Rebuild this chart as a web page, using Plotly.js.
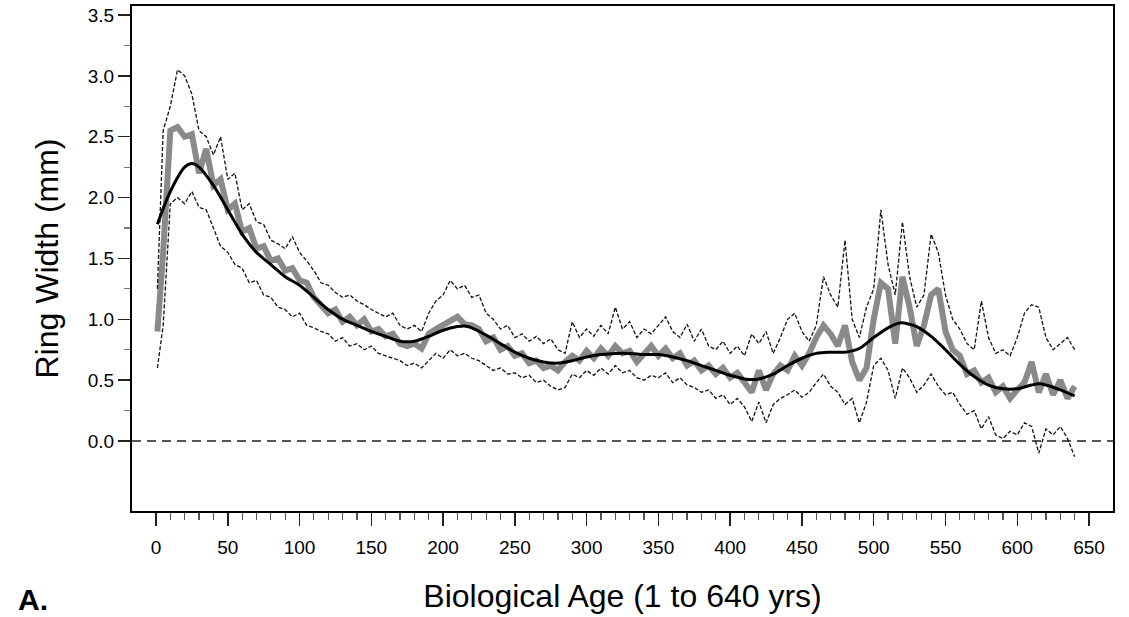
<!DOCTYPE html>
<html>
<head>
<meta charset="utf-8">
<script src="https://cdn.plot.ly/plotly-3.0.1.min.js"></script>
<style>
  html, body { margin: 0; padding: 0; background: #ffffff; }
  #chart { width: 1129px; height: 617px; }
</style>
</head>
<body>
<div id="chart"></div>
<script>
// ---- Data ----
const ageYears = [1,5,10,15,20,25,30,35,40,45,50,55,60,65,70,75,80,85,90,95,100,105,110,115,120,125,130,135,140,145,150,155,160,165,170,175,180,185,190,195,200,205,210,215,220,225,230,235,240,245,250,255,260,265,270,275,280,285,290,295,300,305,310,315,320,325,330,335,340,345,350,355,360,365,370,375,380,385,390,395,400,405,410,415,420,425,430,435,440,445,450,455,460,465,470,475,480,485,490,495,500,505,510,515,520,525,530,535,540,545,550,555,560,565,570,575,580,585,590,595,600,605,610,615,620,625,630,635,640];

const meanRingWidth = [0.90,1.55,2.55,2.58,2.50,2.52,2.20,2.40,2.10,2.15,1.90,1.95,1.72,1.75,1.58,1.60,1.48,1.50,1.40,1.42,1.32,1.30,1.18,1.12,1.05,1.08,0.98,1.02,0.95,1.00,0.90,0.92,0.86,0.88,0.80,0.78,0.80,0.76,0.88,0.92,0.95,0.98,1.02,0.96,0.95,0.92,0.82,0.85,0.75,0.78,0.70,0.72,0.64,0.66,0.60,0.62,0.58,0.65,0.70,0.66,0.74,0.68,0.76,0.70,0.78,0.72,0.74,0.65,0.72,0.78,0.70,0.76,0.68,0.72,0.62,0.66,0.58,0.62,0.55,0.60,0.52,0.56,0.48,0.40,0.58,0.42,0.55,0.62,0.58,0.70,0.62,0.72,0.85,0.95,0.88,0.78,0.95,0.65,0.50,0.60,1.00,1.30,1.25,0.80,1.35,1.10,0.78,0.95,1.20,1.25,0.90,0.75,0.70,0.55,0.58,0.48,0.52,0.40,0.45,0.35,0.42,0.48,0.65,0.40,0.55,0.38,0.50,0.35,0.45];

const upperRingWidth = [1.25,2.55,2.75,3.05,3.00,2.85,2.55,2.50,2.35,2.50,2.15,2.20,1.90,1.95,1.80,1.78,1.65,1.62,1.58,1.68,1.55,1.48,1.40,1.30,1.28,1.22,1.18,1.20,1.15,1.12,1.08,1.05,1.02,1.05,0.95,0.92,0.95,0.90,1.05,1.15,1.20,1.32,1.25,1.28,1.18,1.20,1.05,1.00,0.92,0.95,0.85,0.88,0.82,0.86,0.80,0.84,0.75,0.72,0.98,0.85,0.92,0.86,0.95,0.88,1.10,0.92,0.98,0.85,0.92,0.88,0.95,1.02,0.90,0.85,0.96,0.82,0.92,0.78,0.75,0.82,0.72,0.78,0.70,0.88,0.80,0.90,0.72,0.85,1.00,1.05,0.90,0.82,0.95,1.35,1.20,1.10,1.65,1.00,0.85,1.10,1.25,1.90,1.45,1.20,1.80,1.35,1.10,1.20,1.70,1.55,1.20,1.00,0.92,0.80,0.75,1.15,0.85,0.72,0.75,0.70,0.85,1.05,1.12,1.10,0.85,0.75,0.80,0.85,0.75];

const lowerRingWidth = [0.60,0.95,1.95,2.00,1.95,2.05,1.92,1.90,1.75,1.60,1.55,1.45,1.42,1.30,1.32,1.20,1.18,1.10,1.08,1.02,1.05,0.95,0.93,0.90,0.88,0.82,0.85,0.78,0.80,0.75,0.78,0.72,0.70,0.68,0.66,0.62,0.64,0.60,0.66,0.72,0.68,0.75,0.70,0.72,0.68,0.66,0.62,0.58,0.60,0.55,0.56,0.52,0.54,0.48,0.50,0.45,0.42,0.44,0.55,0.52,0.58,0.54,0.60,0.55,0.62,0.56,0.58,0.52,0.50,0.54,0.52,0.56,0.48,0.52,0.46,0.44,0.40,0.42,0.35,0.38,0.30,0.35,0.28,0.16,0.32,0.15,0.30,0.35,0.38,0.42,0.36,0.40,0.48,0.55,0.45,0.40,0.30,0.35,0.15,0.32,0.62,0.68,0.58,0.35,0.60,0.52,0.40,0.46,0.55,0.45,0.38,0.40,0.30,0.22,0.25,0.10,0.20,0.05,0.02,0.08,0.05,0.15,0.12,-0.10,0.10,0.05,0.12,0.02,-0.13];

const splineYears = [1,10,20,25,30,40,50,60,70,80,90,100,110,120,130,140,150,160,170,180,190,200,210,215,220,230,240,250,260,270,280,290,300,310,320,330,340,350,360,370,380,390,400,410,415,420,430,440,450,460,470,480,490,500,510,518,525,530,540,550,560,570,580,590,600,610,615,620,630,640];
const splineRingWidth = [1.78,2.05,2.25,2.28,2.25,2.10,1.90,1.70,1.55,1.45,1.35,1.28,1.18,1.08,1.00,0.95,0.90,0.86,0.82,0.82,0.86,0.91,0.94,0.945,0.93,0.87,0.80,0.73,0.68,0.65,0.64,0.66,0.69,0.71,0.72,0.72,0.71,0.71,0.69,0.66,0.62,0.58,0.54,0.51,0.505,0.51,0.55,0.62,0.68,0.72,0.73,0.73,0.76,0.85,0.93,0.97,0.96,0.94,0.86,0.75,0.63,0.53,0.46,0.43,0.43,0.46,0.47,0.46,0.42,0.37];

const xTickVals = [0,50,100,150,200,250,300,350,400,450,500,550,600,650];
const xTickText = ["0","50","100","150","200","250","300","350","400","450","500","550","600","650"];
const yTickVals = [0,0.5,1,1.5,2,2.5,3,3.5];
const yTickText = ["0.0","0.5","1.0","1.5","2.0","2.5","3.0","3.5"];
const xMinorVals = [];
for (let v = 10; v <= 640; v += 10) { if (v % 50 !== 0) xMinorVals.push(v); }
const yMinorVals = [0.25,0.75,1.25,1.75,2.25,2.75,3.25];

const xTitle = "Biological Age (1 to 640 yrs)";
const yTitle = "Ring Width (mm)";
const panelLabel = "A.";

// ---- Traces ----
const traces = [
  {
    x: ageYears, y: meanRingWidth, type: 'scatter', mode: 'lines',
    line: { color: '#8a8a8a', width: 6 }, hoverinfo: 'skip', showlegend: false
  },
  {
    x: ageYears, y: upperRingWidth, type: 'scatter', mode: 'lines',
    line: { color: '#111111', width: 1.3, dash: '4px,2px' }, showlegend: false
  },
  {
    x: ageYears, y: lowerRingWidth, type: 'scatter', mode: 'lines',
    line: { color: '#111111', width: 1.3, dash: '4px,2px' }, showlegend: false
  },
  {
    x: splineYears, y: splineRingWidth, type: 'scatter', mode: 'lines',
    line: { color: '#000000', width: 3, shape: 'spline', smoothing: 1 }, showlegend: false
  }
];

const fontFamily = '"Liberation Sans", Arial, Helvetica, sans-serif';

const layout = {
  width: 1129, height: 617,
  paper_bgcolor: '#ffffff', plot_bgcolor: '#ffffff',
  margin: { l: 132, r: 16, t: 6, b: 106 },
  font: { family: fontFamily, color: '#000000' },
  showlegend: false,
  xaxis: {
    range: [-16.7, 666.7],
    tickmode: 'array', tickvals: xTickVals, ticktext: xTickText,
    ticks: 'outside', ticklen: 13, tickwidth: 1.5, tickcolor: '#222222',
    ticklabelstandoff: 5,
    minor: { tickmode: 'array', tickvals: xMinorVals, ticks: 'outside', ticklen: 7, tickwidth: 1.2, tickcolor: '#555555', showgrid: false },
    tickfont: { size: 19, family: fontFamily, color: '#000000' },
    showline: true, linecolor: '#000000', linewidth: 2, mirror: true,
    showgrid: false, zeroline: false,
    title: { text: xTitle, font: { size: 32, family: fontFamily, color: '#000000' }, standoff: 28 }
  },
  yaxis: {
    range: [-0.575, 3.574],
    tickmode: 'array', tickvals: yTickVals, ticktext: yTickText,
    ticks: 'outside', ticklen: 12, tickwidth: 1.5, tickcolor: '#222222',
    minor: { tickmode: 'array', tickvals: yMinorVals, ticks: 'outside', ticklen: 6, tickwidth: 1.2, tickcolor: '#777777', showgrid: false },
    tickfont: { size: 19, family: fontFamily, color: '#000000' },
    showline: true, linecolor: '#000000', linewidth: 2, mirror: true,
    showgrid: false, zeroline: false,
    title: { text: yTitle, font: { size: 32, family: fontFamily, color: '#000000' }, standoff: 20 }
  },
  shapes: [
    { type: 'line', xref: 'paper', x0: 0, x1: 1, yref: 'y', y0: 0, y1: 0,
      line: { color: '#555555', width: 2, dash: '9px,6px' }, layer: 'below' }
  ],
  annotations: [
    { text: panelLabel, xref: 'paper', yref: 'paper', x: -0.118, y: -0.175,
      xanchor: 'left', yanchor: 'middle', showarrow: false,
      font: { size: 30, family: fontFamily, color: '#000000', weight: 'bold' } }
  ]
};

Plotly.newPlot('chart', traces, layout, { staticPlot: true, displayModeBar: false });
</script>
</body>
</html>
